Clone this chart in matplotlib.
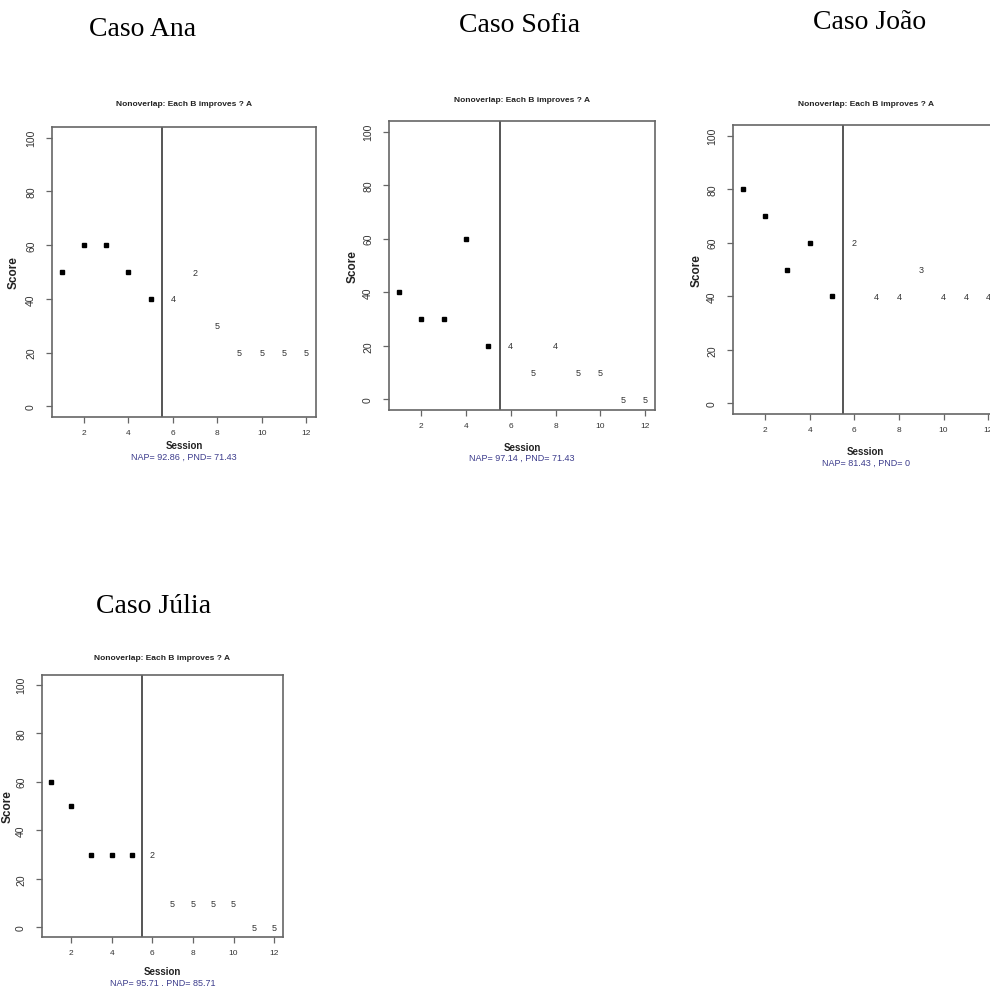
import matplotlib
matplotlib.use("Agg")
import matplotlib.pyplot as plt

W, H = 990, 987

# Session numbers: baseline (A) 1-5, intervention (B) 6-12
sessions_a = [1, 2, 3, 4, 5]
sessions_b = [6, 7, 8, 9, 10, 11, 12]

cases = ["Caso Ana", "Caso Sofia", "Caso João", "Caso Júlia"]

ana_a = [50, 60, 60, 50, 40]
ana_b = [40, 50, 30, 20, 20, 20, 20]
ana_lbl = ["4", "2", "5", "5", "5", "5", "5"]

sofia_a = [40, 30, 30, 60, 20]
sofia_b = [20, 10, 20, 10, 10, 0, 0]
sofia_lbl = ["4", "5", "4", "5", "5", "5", "5"]

joao_a = [80, 70, 50, 60, 40]
joao_b = [60, 40, 40, 50, 40, 40, 40]
joao_lbl = ["2", "4", "4", "3", "4", "4", "4"]

julia_a = [60, 50, 30, 30, 30]
julia_b = [30, 10, 10, 10, 10, 0, 0]
julia_lbl = ["2", "5", "5", "5", "5", "5", "5"]

nap = [92.86, 97.14, 81.43, 95.71]
pnd = [71.43, 71.43, 0, 85.71]

series = [
    (ana_a, ana_b, ana_lbl),
    (sofia_a, sofia_b, sofia_lbl),
    (joao_a, joao_b, joao_lbl),
    (julia_a, julia_b, julia_lbl),
]

# panel geometry in pixels: axes box, heading, sub-title, axis labels
layout = [
    dict(box=(52, 316, 128, 418), head=(143, 36), sub=104, sess=446, nap=457, score=14),
    dict(box=(389, 655, 122, 411), head=(520, 32), sub=101, sess=448, nap=458, score=353),
    dict(box=(733, 998, 126, 415), head=(870, 29), sub=104, sess=452, nap=463, score=697),
    dict(box=(42, 283, 676, 938), head=(154, 613), sub=659, sess=972, nap=983, score=8),
]

fig = plt.figure(figsize=(W / 100, H / 100), dpi=100)
fig.patch.set_facecolor("white")

def fx(x):
    return x / W

def fy(y):
    return 1 - y / H

grey = "#666666"
txt = "#333333"

for name, (ya, yb, lbl), geo, n, p in zip(cases, series, layout, nap, pnd):
    l, r, t, b = geo["box"]
    ax = fig.add_axes([fx(l), fy(b), (r - l) / W, (b - t) / H])
    ax.set_xlim(0.56, 12.44)
    ax.set_ylim(-4, 104)
    ax.plot(sessions_a, ya, "s", color="black", markersize=3.5)
    for s, v, c in zip(sessions_b, yb, lbl):
        ax.text(s, v, c, ha="center", va="center", fontsize=6.5, color=txt,
                family="Liberation Sans")
    ax.axvline(5.5, color="#555555", linewidth=1.4)
    ax.set_xticks([2, 4, 6, 8, 10, 12])
    ax.set_yticks([0, 20, 40, 60, 80, 100])
    ax.tick_params(axis="both", direction="out", length=4.5, width=0.9,
                   color=grey, labelcolor=txt)
    ax.tick_params(axis="x", labelsize=6, pad=4)
    ax.tick_params(axis="y", labelsize=7.5, pad=7)
    for lab in ax.get_yticklabels():
        lab.set_rotation(90)
        lab.set_va("center")
    for lab in ax.get_xticklabels() + ax.get_yticklabels():
        lab.set_family("Liberation Sans")
    for sp in ax.spines.values():
        sp.set_color(grey)
        sp.set_linewidth(1.2)

    cx = (l + r) / 2
    fig.text(fx(geo["head"][0]), fy(geo["head"][1]), name, ha="center",
             va="baseline", fontsize=20, family="Liberation Serif", color="black")
    fig.text(fx(cx), fy(geo["sub"]), "Nonoverlap: Each B improves ? A",
             ha="center", va="center", fontsize=6, fontweight="bold",
             family="Liberation Sans", color="#222222")
    fig.text(fx(cx), fy(geo["sess"]), "Session", ha="center", va="center",
             fontsize=7, fontweight="bold", family="Liberation Sans",
             color="#222222")
    fig.text(fx(cx), fy(geo["nap"]), f"NAP= {n:.2f} , PND= {p:g}",
             ha="center", va="center", fontsize=6.5, family="Liberation Sans",
             color="#3c3c8c")
    fig.text(fx(geo["score"]), fy((t + b) / 2), "Score", ha="center",
             va="center", rotation=90, fontsize=8.5, fontweight="bold",
             family="Liberation Sans", color="#222222")

fig.savefig("out.png", dpi=100, facecolor="white")
